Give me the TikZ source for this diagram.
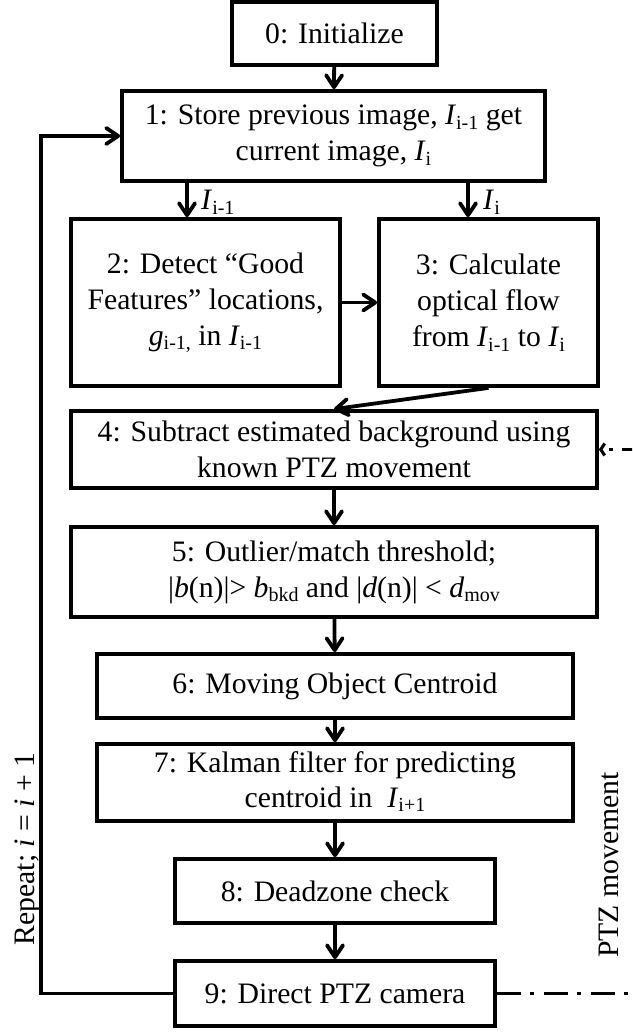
\documentclass[tikz,border=0pt]{standalone}
\usepackage{fontspec}
\setmainfont{Liberation Serif}
\usetikzlibrary{arrows.meta}
% lowered, smaller subscript set in the text font
\newcommand{\sbs}[1]{\raisebox{-0.15em}{\fontsize{20}{20}\selectfont #1}}
\newcommand{\vi}[1]{\textit{#1}}

\begin{document}
\begin{tikzpicture}[x=1pt,y=-1pt,
  box/.style={draw, line width=3.8pt, rectangle, inner sep=0pt, align=center,
    font=\fontsize{29.7}{36}\selectfont},
  flow/.style={line width=3.8pt, line join=miter,
    -{Straight Barb[length=12pt,width=16pt,round]}},
  ptz/.style={line width=3pt, dash pattern=on 24pt off 9pt on 4pt off 10pt,
    -{Straight Barb[length=4pt,width=12pt]}},
  lbl/.style={inner sep=0pt, font=\fontsize{29.7}{36}\selectfont}
]
\clip (0,0) rectangle (632,1032);

% process steps
\node[box, minimum width=205pt, minimum height=63pt] (B0) at (334.5,33.5) {0: Initialize};
\node[box, minimum width=423pt, minimum height=90pt] (B1) at (333.5,136)
  {1: Store previous image, \vi{I}\sbs{i-1} get\\ current image, \vi{I}\sbs{i}};
\node[box, minimum width=269pt, minimum height=167pt] (B2) at (205.5,302.5)
  {2: Detect “Good\\ Features” locations,\\ \vi{g}\sbs{i-1,} in \vi{I}\sbs{i-1}};
\node[box, minimum width=219pt, minimum height=167pt] (B3) at (488.5,302.5)
  {3: Calculate\\ optical flow\\ from \vi{I}\sbs{i-1} to \vi{I}\sbs{i}};
\node[box, minimum width=526pt, minimum height=77pt] (B4) at (334,449.5)
  {4: Subtract estimated background using\\ known PTZ movement};
\node[box, minimum width=526pt, minimum height=90pt] (B5) at (334,572)
  {5: Outlier/match threshold;\\ |\vi{b}(n)|> \vi{b}\sbs{bkd} and |\vi{d}(n)| < \vi{d}\sbs{mov}};
\node[box, minimum width=476pt, minimum height=64pt] (B6) at (335,686)
  {6: Moving Object Centroid};
\node[box, minimum width=476pt, minimum height=77pt] (B7) at (335,782.5)
  {\raisebox{-5pt}{\begin{tabular}{@{}c@{}}7: Kalman filter for predicting\\[-0.6pt] centroid in\ \ \vi{I}\sbs{i+1}\end{tabular}}};
\node[box, minimum width=320pt, minimum height=64pt] (B8) at (335,891)
  {8: Deadzone check};
\node[box, minimum width=320pt, minimum height=65pt] (B9) at (335,993.5)
  {9: Direct PTZ camera};

% helper columns for the connectors
\coordinate (cL) at (187,0);
\coordinate (cR) at (468,0);
\coordinate (fb) at (41,0);
\coordinate (ret) at (652,0);

% main flow
\draw[flow] (B0) -- (B1);
\draw[flow] (B1.south -| cL) -- (B2.north -| cL);
\draw[flow] (B1.south -| cR) -- (B3.north -| cR);
\draw[flow] (B2) -- (B3);
\draw[flow] (B3.south) -- (B4.north);
\draw[flow] (B4) -- (B5);
\draw[flow] (B5) -- (B6);
\draw[flow] (B6) -- (B7);
\draw[flow] (B7) -- (B8);
\draw[flow] (B8) -- (B9);

% loop back to step 1
\draw[flow] (B9.west) -- (B9.west -| fb) |- (B1.west);

% camera movement fed back to background subtraction
\draw[ptz] (B9.east) -- (B9.east -| ret) |- (B4.east);

% labels
\node[lbl, anchor=base west] (l1) at (201,210) {\vi{I}\sbs{i-1}};
\node[lbl, anchor=base west] (l2) at (483,210) {\vi{I}\sbs{i}};
\node[lbl, rotate=90, anchor=base] (rep) at (34,849) {Repeat; \vi{i} = \vi{i} + 1};
\node[lbl, rotate=90, anchor=base] (mov) at (618,865) {PTZ movement};
\end{tikzpicture}
\end{document}
